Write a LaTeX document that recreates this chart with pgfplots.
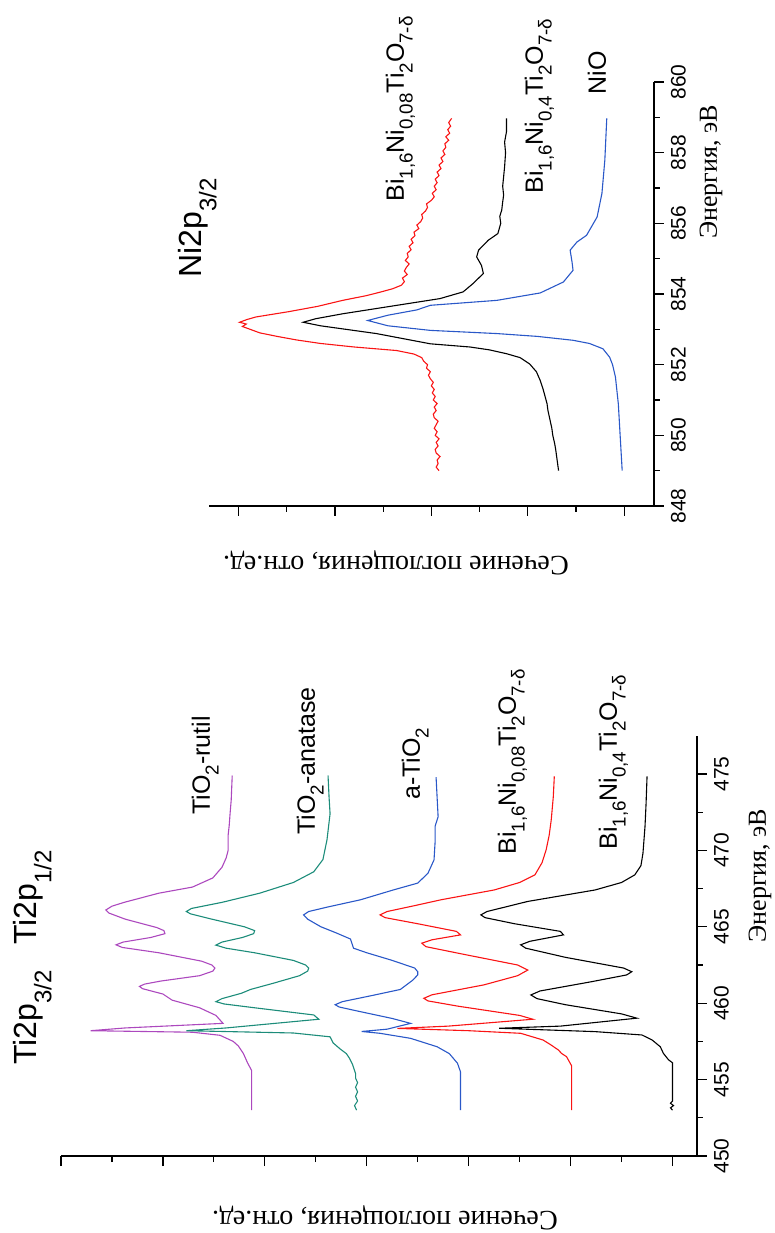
\documentclass[border=0pt]{standalone}
\usepackage{fontspec}
\setmainfont{Liberation Sans}
\newfontfamily\serif{Liberation Serif}
\usepackage{pgfplots}
\pgfplotsset{compat=1.18}

\definecolor{cpurple}{RGB}{172,72,190}
\definecolor{cteal}{RGB}{28,140,122}
\definecolor{cblue}{RGB}{42,88,200}
\definecolor{cred}{RGB}{250,20,20}

\pgfplotsset{
  base/.style={
    scale only axis,
    axis lines=left,
    axis line style={-, line width=0.6pt, black},
    tick style={line width=0.6pt, black},
    tick align=outside,
    major tick length=5pt,
    minor tick length=3pt,
    yticklabels={},
    /pgf/number format/assume math mode=true,
    /pgf/number format/1000 sep={},
    xticklabel style={font=\fontsize{10.5}{12}\selectfont},
    clip=false,
    every axis plot/.append style={line width=0.55pt, mark=none},
  },
}
\newcommand{\lab}{\fontsize{12.5}{14}\selectfont}
\newcommand{\ttl}{\fontsize{16}{18}\selectfont}
\newcommand{\axl}{\serif\fontsize{13}{15}\selectfont}
\newcommand{\ayl}{\serif\fontsize{14}{16}\selectfont}
\newcommand{\sub}[1]{\raisebox{-0.35em}{\scalebox{0.75}{#1}}}
\newcommand{\tsub}[1]{\raisebox{-0.45em}{\scalebox{0.75}{#1}}}

\begin{document}
\rotatebox{90}{%
\begin{tikzpicture}
% ---------------- Ti 2p ----------------
\begin{axis}[base, at={(38.5pt,39pt)}, anchor=south west,
  width=210.1pt, height=318pt,
  xmin=450, xmax=477.5, ymin=-0.24, ymax=6,
  xtick={450,455,...,475}, minor xtick={452.5,457.5,...,472.5},
  ytick={0,...,6}, minor ytick={0.5,1.5,...,5.5}]
\addplot[cpurple] coordinates {(453.0,4.13)(454.0,4.13)(455.0,4.13)(455.6,4.13)(456.1,4.17)(456.7,4.21)(457.2,4.26)(457.5,4.31)(457.9,4.44)(458.1,4.71)(458.2,5.71)(458.38,5.37)(458.68,4.41)(459.2,4.48)(459.7,4.64)(460.2,4.91)(460.6,5.00)(460.95,5.20)(461.1,5.23)(461.25,5.18)(461.45,5.02)(461.8,4.64)(462.1,4.51)(462.3,4.49)(462.5,4.52)(462.75,4.62)(463.3,5.04)(463.65,5.40)(463.82,5.46)(464.0,5.39)(464.3,5.12)(464.55,4.98)(464.75,4.99)(464.95,5.06)(465.5,5.37)(465.9,5.53)(466.1,5.56)(466.35,5.50)(466.6,5.38)(467.2,5.04)(467.6,4.71)(468.2,4.51)(468.9,4.42)(469.5,4.38)(470.0,4.36)(471.0,4.36)(471.6,4.35)(472.5,4.34)(473.3,4.33)(474.9,4.32)};
\addplot[cteal] coordinates {(453.0,3.10)(453.3,3.12)(453.6,3.09)(453.9,3.11)(454.2,3.09)(454.5,3.11)(454.8,3.09)(455.1,3.11)(455.4,3.11)(456.0,3.14)(456.4,3.17)(456.7,3.20)(457.0,3.26)(457.4,3.33)(457.8,3.36)(458.05,3.72)(458.2,4.77)(458.38,4.38)(458.95,3.47)(459.23,3.52)(459.7,4.10)(459.95,4.40)(460.1,4.48)(460.3,4.42)(460.65,4.23)(460.9,4.14)(461.3,3.92)(461.8,3.66)(462.1,3.58)(462.3,3.57)(462.5,3.60)(462.8,3.72)(463.3,4.10)(463.6,4.38)(463.8,4.48)(464.0,4.42)(464.3,4.22)(464.55,4.11)(464.75,4.10)(465.0,4.20)(465.5,4.52)(465.85,4.73)(466.0,4.77)(466.2,4.72)(466.6,4.42)(467.2,4.05)(467.9,3.72)(468.6,3.52)(469.4,3.43)(470.7,3.39)(472.4,3.36)(473.5,3.37)(474.9,3.38)};
\addplot[cblue] coordinates {(453.0,2.08)(455.5,2.08)(456.07,2.11)(456.7,2.19)(457.15,2.31)(457.7,2.57)(458.03,2.87)(458.15,3.05)(458.3,2.80)(458.68,2.57)(459.0,2.75)(459.5,3.10)(459.75,3.27)(459.9,3.31)(460.1,3.24)(460.5,2.95)(460.9,2.67)(461.5,2.55)(461.85,2.50)(462.06,2.50)(462.3,2.53)(462.8,2.75)(463.3,3.00)(463.6,3.13)(464.2,3.16)(464.6,3.30)(465.0,3.45)(465.5,3.58)(465.78,3.62)(466.0,3.57)(466.3,3.38)(466.77,3.06)(467.41,2.74)(467.86,2.50)(468.5,2.40)(469.38,2.34)(470.5,2.33)(471.57,2.33)(472.2,2.30)(473.5,2.31)(474.8,2.32)};
\addplot[cred] coordinates {(453.0,0.99)(455.9,0.99)(456.5,1.04)(456.72,1.09)(456.94,1.12)(457.3,1.20)(457.59,1.27)(458.03,1.49)(458.2,2.0)(458.35,2.70)(458.5,2.2)(458.95,1.37)(459.2,1.50)(459.8,2.10)(460.15,2.40)(460.32,2.44)(460.55,2.36)(461.2,1.85)(461.8,1.52)(462.17,1.42)(462.5,1.52)(463.2,2.05)(463.7,2.42)(463.93,2.46)(464.15,2.36)(464.47,2.08)(464.7,2.12)(465.2,2.50)(465.6,2.82)(465.78,2.87)(466.0,2.80)(466.4,2.52)(466.77,2.27)(467.41,1.75)(467.9,1.50)(468.4,1.35)(469.2,1.28)(470.04,1.24)(471.0,1.21)(472.0,1.19)(473.5,1.17)(474.84,1.16)};
\addplot[black] coordinates {(453.0,0.00)(453.15,0.02)(453.3,-0.01)(453.45,0.02)(453.6,0.0)(456.1,0.0)(456.3,0.04)(456.72,0.09)(457.15,0.12)(457.59,0.20)(457.92,0.30)(458.14,0.76)(458.36,1.70)(458.5,1.10)(459.02,0.35)(459.3,0.50)(459.9,1.05)(460.3,1.33)(460.54,1.39)(460.8,1.30)(461.4,0.80)(461.85,0.45)(462.06,0.40)(462.3,0.48)(463.0,1.05)(463.6,1.44)(463.82,1.49)(464.05,1.40)(464.47,1.07)(464.7,1.10)(465.2,1.55)(465.6,1.84)(465.78,1.88)(466.0,1.82)(466.66,1.42)(467.41,0.76)(467.9,0.50)(468.4,0.37)(469.0,0.31)(469.82,0.29)(471.57,0.27)(473.0,0.26)(474.84,0.25)};
\end{axis}
% ---------------- Ni 2p ----------------
\begin{axis}[base, at={(363.5pt,60.5pt)}, anchor=south west,
  width=212pt, height=222.65pt,
  xmin=848, xmax=860, ymin=-0.31, ymax=4.31,
  xtick={848,850,...,860}, minor xtick={849,851,...,859},
  ytick={0,...,4}, minor ytick={0.5,1.5,...,3.5}]
\addplot[cred] coordinates {(849.0,1.92)(849.1,1.95)(849.2,1.93)(849.3,1.94)(849.4,1.91)(849.5,1.95)(849.6,1.96)(849.7,1.93)(849.8,1.95)(849.9,1.92)(850.0,1.96)(850.1,1.94)(850.2,1.97)(850.3,1.95)(850.4,1.93)(850.5,1.97)(850.6,1.98)(850.7,1.95)(850.8,1.97)(850.9,1.94)(851.0,1.98)(851.1,1.96)(851.2,1.99)(851.3,1.97)(851.4,2.00)(851.5,1.98)(851.6,2.01)(851.7,2.03)(851.8,2.01)(851.9,2.05)(852.0,2.04)(852.1,2.08)(852.2,2.10)(852.3,2.18)(852.4,2.36)(852.5,2.80)(852.6,3.15)(852.7,3.40)(852.8,3.60)(852.9,3.78)(853.0,3.88)(853.08,3.96)(853.15,3.92)(853.2,3.99)(853.28,3.91)(853.35,3.82)(853.5,3.48)(853.65,3.18)(853.82,2.92)(853.95,2.68)(854.06,2.52)(854.15,2.40)(854.25,2.31)(854.35,2.28)(854.45,2.30)(854.55,2.25)(854.65,2.28)(854.75,2.26)(854.85,2.23)(854.95,2.27)(855.05,2.24)(855.15,2.25)(855.25,2.21)(855.35,2.23)(855.45,2.19)(855.55,2.21)(855.65,2.17)(855.75,2.18)(855.85,2.13)(855.95,2.15)(856.05,2.11)(856.15,2.09)(856.25,2.10)(856.35,2.06)(856.45,2.04)(856.55,2.05)(856.65,2.00)(856.75,1.97)(856.85,1.99)(856.95,1.95)(857.05,1.97)(857.15,1.94)(857.25,1.96)(857.35,1.92)(857.45,1.94)(857.55,1.90)(857.65,1.92)(857.75,1.88)(857.85,1.90)(857.95,1.86)(858.05,1.88)(858.15,1.85)(858.25,1.86)(858.35,1.82)(858.45,1.85)(858.55,1.81)(858.65,1.83)(858.75,1.80)(858.85,1.82)(858.97,1.79)};
\addplot[black] coordinates {(849.0,0.68)(849.2,0.69)(849.4,0.70)(849.6,0.71)(849.76,0.72)(850.0,0.74)(850.2,0.75)(850.45,0.77)(850.7,0.79)(850.9,0.80)(851.1,0.82)(851.3,0.84)(851.55,0.87)(851.8,0.91)(852.02,0.98)(852.2,1.08)(852.31,1.22)(852.42,1.40)(852.5,1.60)(852.59,2.01)(852.88,2.57)(853.1,3.15)(853.2,3.33)(853.3,3.20)(853.44,2.92)(853.87,1.91)(854.06,1.67)(854.29,1.57)(854.58,1.46)(854.81,1.48)(855.05,1.53)(855.24,1.51)(855.52,1.41)(855.71,1.31)(856.0,1.28)(856.2,1.29)(856.37,1.27)(856.6,1.26)(856.8,1.25)(857.05,1.26)(857.32,1.25)(857.6,1.24)(858.0,1.23)(858.3,1.24)(858.6,1.22)(858.97,1.22)};
\addplot[cblue] coordinates {(849.0,0.02)(849.94,0.04)(850.89,0.06)(851.65,0.09)(852.0,0.12)(852.21,0.15)(852.45,0.22)(852.6,0.36)(852.69,0.53)(852.8,0.90)(852.88,1.32)(852.97,2.01)(853.1,2.45)(853.25,2.66)(853.4,2.45)(853.55,2.15)(853.68,2.01)(853.82,1.32)(854.03,0.87)(854.34,0.63)(854.67,0.53)(854.9,0.54)(855.24,0.56)(855.47,0.49)(855.66,0.39)(856.18,0.28)(856.85,0.23)(857.79,0.20)(858.97,0.18)};
\end{axis}
% ---------------- texts ----------------
\node[anchor=base west, inner sep=0] at (84pt,369pt) {\ttl Ti2p\tsub{3/2}};
\node[anchor=base west, inner sep=0] at (144pt,369pt) {\ttl Ti2p\tsub{1/2}};
\node[anchor=base west, inner sep=0] at (209pt,282.5pt) {\lab TiO\sub{2}-rutil};
\node[anchor=base west, inner sep=0] at (199pt,230pt) {\lab TiO\sub{2}-anatase};
\node[anchor=base west, inner sep=0] at (216.5pt,177.5pt) {\lab a-TiO\sub{2}};
\node[anchor=base west, inner sep=0] at (189pt,129.5pt) {\lab Bi\sub{1,6}Ni\sub{0,08}Ti\sub{2}O\sub{7-δ}};
\node[anchor=base west, inner sep=0] at (191.5pt,79pt) {\lab Bi\sub{1,6}Ni\sub{0,4}Ti\sub{2}O\sub{7-δ}};
\node[anchor=base, inner sep=0] at (178.7pt,4.5pt) {\axl Энергия, эВ};
\node[rotate=90, anchor=north, inner sep=0] at (1.5pt,195pt) {\ayl Сечение поглощения, отн.ед.};
\node[anchor=base west, inner sep=0] at (477.5pt,286.5pt) {\ttl Ni2p\tsub{3/2}};
\node[anchor=base west, inner sep=0] at (515.5pt,185.5pt) {\lab Bi\sub{1,6}Ni\sub{0,08}Ti\sub{2}O\sub{7-δ}};
\node[anchor=base west, inner sep=0] at (519.5pt,116pt) {\lab Bi\sub{1,6}Ni\sub{0,4}Ti\sub{2}O\sub{7-δ}};
\node[anchor=base west, inner sep=0] at (569pt,84.5pt) {\lab NiO};
\node[anchor=base, inner sep=0] at (530.5pt,29pt) {\axl Энергия, эВ};
\node[rotate=90, inner sep=0] at (335pt,189.5pt) {\ayl Сечение поглощения, отн.ед.};
\pgfresetboundingbox
\path[use as bounding box] (0,0) rectangle (616.5pt,387.5pt);
\end{tikzpicture}}
\end{document}
